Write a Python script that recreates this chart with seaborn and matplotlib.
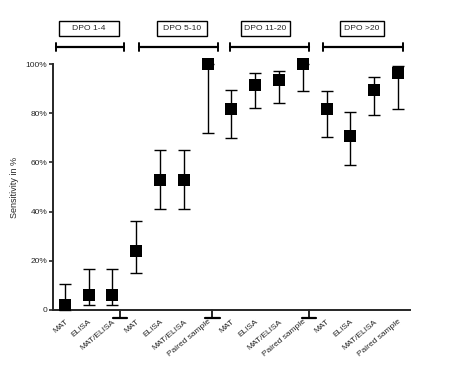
import matplotlib
matplotlib.use("Agg")
import matplotlib.pyplot as plt
from matplotlib.patches import Rectangle
import seaborn as sns
import numpy as np
import pandas as pd

sns.set_style("ticks")
plt.rcParams['font.family'] = ['Liberation Sans', 'DejaVu Sans']

tests = ["MAT", "ELISA", "MAT/ELISA",
         "MAT", "ELISA", "MAT/ELISA", "Paired sample",
         "MAT", "ELISA", "MAT/ELISA", "Paired sample",
         "MAT", "ELISA", "MAT/ELISA", "Paired sample"]
sensitivity = [2, 6, 6,
               24, 53, 53, 100,
               81.7, 91.7, 93.4, 100,
               81.6, 70.9, 89.3, 96.3]
ci_low = [0, 2, 2,
          15, 41, 41, 72,
          70, 82, 84.3, 89,
          70.5, 58.8, 79.4, 81.7]
ci_high = [10.6, 16.7, 16.7,
           36, 65, 65, 100,
           89.4, 96.3, 97.4, 100,
           89.1, 80.5, 94.8, 99.3]
groups = ["DPO 1-4", "DPO 5-10", "DPO 11-20", "DPO >20"]
group_span = [(-0.38, 2.48), (3.11, 6.43), (6.94, 10.26), (10.85, 14.2)]
box_span = [(-0.25, 2.27), (3.87, 5.97), (7.4, 9.46), (11.56, 13.41)]
breaks = [2.33, 6.2, 10.25]
yticks = [0, 20, 40, 60, 80, 100]
ytick_labels = ["0", "20%", "40%", "60%", "80%", "100%"]

pos = np.arange(len(tests))
df = pd.DataFrame({"pos": pos, "sens": sensitivity, "lo": ci_low, "hi": ci_high})

fig = plt.figure(figsize=(4.56, 3.73), dpi=100)
ax = fig.add_axes([0.116, 0.169, 0.783, 0.659])

ax.errorbar(df["pos"], df["sens"],
            yerr=[df["sens"] - df["lo"], df["hi"] - df["sens"]],
            fmt="none", ecolor="black", elinewidth=1.0, capsize=4.3,
            capthick=1.0, clip_on=False, zorder=2)
sns.scatterplot(data=df, x="pos", y="sens", marker="s", s=75, color="black",
                edgecolor="black", linewidth=0, ax=ax, zorder=3, clip_on=False)

ax.set_xlim(-0.5, 14.5)
ax.set_ylim(0, 100)
ax.set_yticks(yticks)
ax.set_yticklabels(ytick_labels, fontsize=6)
ax.set_xticks(pos)
ax.set_xticklabels(tests, rotation=40, ha="right", rotation_mode="anchor", fontsize=6)
ax.tick_params(axis="x", length=0, pad=6)
ax.tick_params(axis="y", length=3, width=1.2, pad=1)
ax.set_xlabel("")
ax.set_ylabel("Sensitivity in %", fontsize=6.5, labelpad=5)
for sp in ["top", "right"]:
    ax.spines[sp].set_visible(False)
for sp in ["left", "bottom"]:
    ax.spines[sp].set_linewidth(1.4)

# break marks on x-axis
for b in breaks:
    ax.plot([b, b], [0, -3.3], color="black", lw=1.2, clip_on=False)
    ax.plot([b - 0.3, b + 0.3], [-3.3, -3.3], color="black", lw=1.6, clip_on=False)

# group brackets and labels
for g, (a, bnd), (b0, b1) in zip(groups, group_span, box_span):
    ax.plot([a, bnd], [107, 107], color="black", lw=1.6, clip_on=False)
    ax.plot([a, a], [105.5, 108.5], color="black", lw=1.4, clip_on=False)
    ax.plot([bnd, bnd], [105.5, 108.5], color="black", lw=1.4, clip_on=False)
    ax.add_patch(Rectangle((b0, 111.4), b1 - b0, 6.1, fc="white", ec="black",
                           lw=1.0, clip_on=False))
    ax.text((b0 + b1) / 2, 114.4, g, ha="center", va="center", fontsize=6.1,
            clip_on=False)

fig.savefig("out.png", dpi=100)
